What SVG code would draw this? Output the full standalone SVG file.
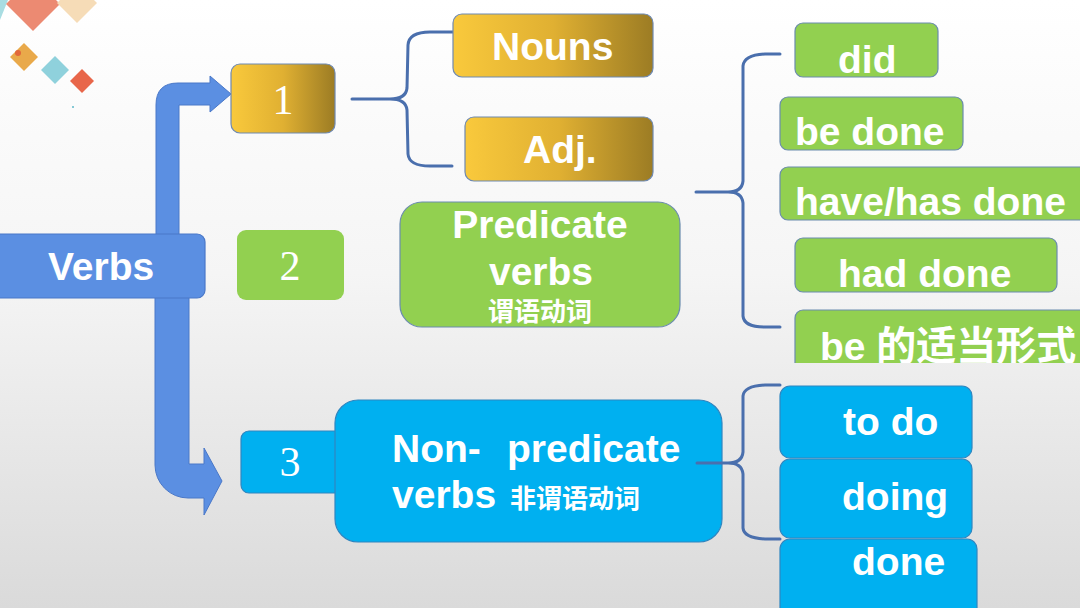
<svg xmlns="http://www.w3.org/2000/svg" width="1080" height="608" viewBox="0 0 1080 608">
<defs>
<linearGradient id="bg" x1="0" y1="0" x2="0" y2="1">
<stop offset="0" stop-color="#ffffff"/>
<stop offset="0.45" stop-color="#f5f5f5"/>
<stop offset="1" stop-color="#dadada"/>
</linearGradient>
<linearGradient id="gold" x1="0" y1="0" x2="1" y2="0">
<stop offset="0" stop-color="#f9c93c"/>
<stop offset="0.5" stop-color="#e0b032"/>
<stop offset="1" stop-color="#9c7c24"/>
</linearGradient>
<clipPath id="clipBe"><rect x="0" y="0" width="1080" height="363"/></clipPath>
<style>
.t{font-family:"Liberation Sans",Arial,"Noto Sans CJK SC",sans-serif;font-weight:bold;fill:#ffffff;font-size:39px}
.c{font-family:"Noto Sans CJK SC","Liberation Sans",sans-serif;font-weight:bold;fill:#ffffff}
.n{font-family:"Liberation Serif","Times New Roman",serif;fill:#ffffff;font-size:42px;text-anchor:middle}
.green{fill:#92d050;stroke:#6b8cae;stroke-width:1.2}
.blue{fill:#00b0f0;stroke:#2f86c0;stroke-width:1.2}
.goldb{fill:url(#gold);stroke:#6f89b0;stroke-width:1.2}
.brace{fill:none;stroke:#4a6fad;stroke-width:3;stroke-linecap:round;stroke-linejoin:round}
.arrow{fill:#5b8fe2;stroke:#4a78c8;stroke-width:1}
</style>
</defs>
<rect x="0" y="0" width="1080" height="608" fill="url(#bg)"/>
<g id="decor">
<polygon points="0,0 8,0 0,20" fill="#a9dde2"/>
<polygon points="33,-23 60,4 33,31 6,4" fill="#ec8a72"/>
<polygon points="77,-17 97,3 77,23 57,3" fill="#f6dcb7"/>
<polygon points="24,43 38,57 24,71 10,57" fill="#e9a94a"/>
<circle cx="18" cy="53" r="3" fill="#e2673a"/>
<polygon points="55,56 69,70 55,84 41,70" fill="#8fd1dc"/>
<polygon points="82,69 94,81 82,93 70,81" fill="#e8664a"/>
<circle cx="73" cy="107" r="1" fill="#5fb8c8"/>
</g>
<g id="connectors">
<path class="arrow" d="M156,250 L156,105 Q156,83 178,83 L210,83 L210,76 L231,94 L210,112 L210,105 L179,105 L179,250 Z"/>
<path class="arrow" d="M155,290 L155,465 A33,33 0 0 0 188,498 L204,498 L204,515 L222,481 L204,448 L204,464 L189,464 L189,290 Z"/>
<path class="brace" d="M352,99 L390,99 Q406,99 407,88 L408,45 Q409,32 430,32 L453,32 M390,99 Q406,99 407,110 L408,154 Q409,166 430,166 L452,166"/>
<path class="brace" d="M696,192 L728,192 Q742,192 743,181 L743,66 Q744,55 765,54 L780,54 M728,192 Q742,192 743,203 L743,316 Q744,327 765,327 L780,327"/>
</g>
<g id="verbs">
<rect x="-8" y="234" width="213" height="64" rx="8" fill="#5b8fe2" stroke="#4a78c8" stroke-width="1.2"/>
<text class="t" x="48" y="280" font-size="40">Verbs</text>
</g>
<g id="n1">
<rect class="goldb" x="231" y="64" width="104" height="69" rx="9"/>
<text class="n" x="283" y="114">1</text>
</g>
<g id="nouns">
<rect class="goldb" x="453" y="14" width="200" height="63" rx="9"/>
<text class="t" x="492" y="60">Nouns</text>
</g>
<g id="adj">
<rect class="goldb" x="465" y="117" width="188" height="64" rx="9"/>
<text class="t" x="523" y="163">Adj.</text>
</g>
<g id="n2">
<rect x="237" y="230" width="107" height="70" rx="9" fill="#92d050"/>
<text class="n" x="290" y="280">2</text>
</g>
<g id="predicate">
<rect class="green" x="400" y="202" width="280" height="125" rx="22"/>
<text class="t" x="540" y="238" text-anchor="middle" font-size="40">Predicate</text>
<text class="t" x="541" y="285" text-anchor="middle">verbs</text>
<text class="c" x="540" y="321" font-size="26" text-anchor="middle">谓语动词</text>
</g>
<g id="did">
<rect class="green" x="795" y="23" width="143" height="54" rx="8"/>
<text class="t" x="838" y="73">did</text>
</g>
<g id="bedone">
<rect class="green" x="780" y="97" width="183" height="53" rx="8"/>
<text class="t" x="795" y="145" font-size="40">be done</text>
</g>
<g id="havedone">
<rect class="green" x="780" y="167" width="320" height="53" rx="8"/>
<text class="t" x="795" y="215" font-size="40.5">have/has done</text>
</g>
<g id="haddone">
<rect class="green" x="795" y="238" width="262" height="54" rx="8"/>
<text class="t" x="838" y="287" font-size="39.5">had done</text>
</g>
<g id="beform" clip-path="url(#clipBe)">
<rect class="green" x="795" y="310" width="300" height="70" rx="8"/>
<text class="t" x="820" y="360">be <tspan class="c" font-size="40">的适当形式</tspan></text>
</g>
<g id="n3">
<rect class="blue" x="241" y="431" width="110" height="62" rx="8"/>
<text class="n" x="290" y="476">3</text>
</g>
<g id="nonpredicate">
<rect class="blue" x="335" y="400" width="387" height="142" rx="23"/>
<text class="t" x="392" y="462">Non-</text>
<text class="t" x="507" y="462" font-size="39.5">predicate</text>
<text class="t" x="392" y="508">verbs</text>
<text class="c" x="510" y="508" font-size="26">非谓语动词</text>
</g>
<g id="connectors2">
<path class="brace" d="M697,463 L728,463 Q742,463 743,452 L743,396 Q744,386 765,385 L780,385 M728,463 Q742,463 743,474 L743,528 Q744,538 765,539 L780,539"/>
</g>
<g id="todo">
<rect class="blue" x="780" y="386" width="192" height="72" rx="10"/>
<text class="t" x="843" y="435" font-size="40">to do</text>
</g>
<g id="doing">
<rect class="blue" x="780" y="459" width="192" height="79" rx="10"/>
<text class="t" x="842" y="510" font-size="40">doing</text>
</g>
<g id="done">
<rect class="blue" x="780" y="539" width="197" height="90" rx="10"/>
<text class="t" x="852" y="575" font-size="40">done</text>
</g>
</svg>
